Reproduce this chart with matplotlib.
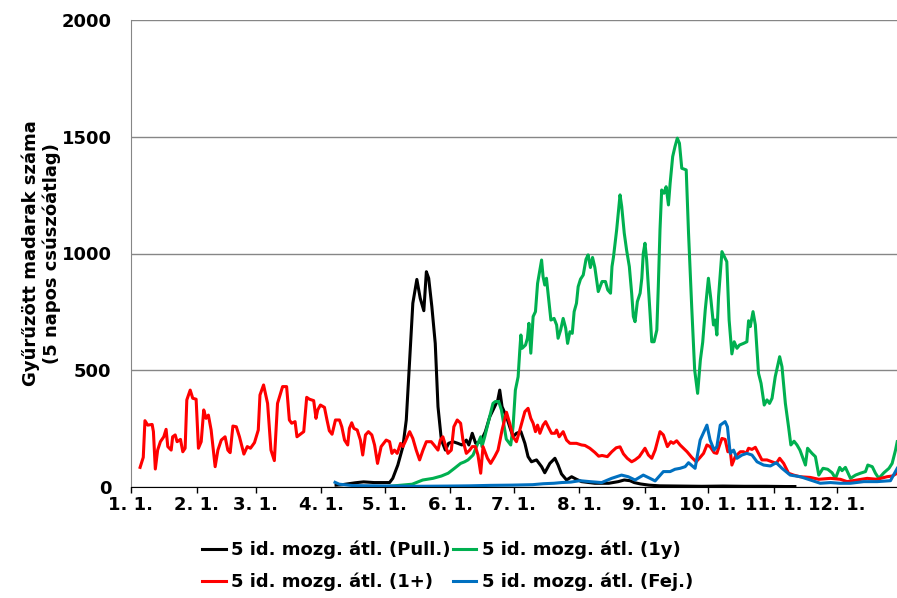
import matplotlib
matplotlib.use("Agg")
import matplotlib.pyplot as plt

# day of year (0 = Jan 1) and 5-day moving averages
red_days = [4.3, 5.8, 6.6, 7.9, 10, 10.6, 11.5, 12.6, 13.9, 15.5, 16.6, 17.4, 19, 19.7, 20.9, 21.8, 23.4,
            24.5, 25.6, 26.4, 28, 29.2, 30.8, 31.9, 33.2, 34.4, 35.5, 36.6, 37.9, 39.8, 41.1, 42.7, 44.5,
            45.8, 46.9, 48.2, 49.8, 51.3, 53.4, 55, 56.5, 58.4, 60.2, 61, 62.7, 64.6, 66.2, 67.8, 69.3,
            71.7, 73.6, 74.9, 76, 77.6, 78.5, 81.7, 83.1, 84.4, 86.4, 87.5, 88.3, 89.6, 91.5, 92.7, 93.8,
            95.1, 96.7, 98.6, 99.7, 101, 102.5, 103.3, 104.4, 105.4, 107, 108.5, 109.6, 110.9, 112.3,
            113.9, 115.2, 116.6, 118.3, 120.7, 122.3, 123.4, 124.6, 125.9, 127.5, 128.6, 129.7, 131.8,
            133.3, 134.9, 136.5, 138.1, 139.7, 142, 143.3, 145.2, 146.3, 147.5, 148.7, 149.9, 151.5,
            152.7, 154.3, 155.9, 157, 158.6, 160.2, 161.4, 162.9, 164.1, 165.4, 166.5, 168.6, 170.1, 172,
            173.6, 175.5, 177.6, 179.1, 180.7, 182.3, 183.9, 186.3, 187.8, 189.1, 190.2, 191.3, 192.3,
            193.4, 194.9, 196.1, 197.3, 198.9, 200.5, 201.3, 202.5, 204.4, 206, 207.6, 210.7, 213.1,
            214.7, 217, 219.4, 221.2, 222.8, 225.3, 227.4, 229.5, 231.3, 232.9, 234.7, 236.8, 238.4,
            240.4, 243.1, 244.7, 246.3, 247.9, 250.2, 251.8, 253.7, 255.3, 256.5, 258.1, 259.7, 261.3,
            263, 265.2, 267.3, 269.2, 270.8, 272.4, 273.9, 275.8, 277.1, 278.4, 279.5, 281, 282.3, 283.4,
            284.2, 285.8, 288.2, 289.7, 291, 292.1, 293.7, 295.3, 296.8, 298.4, 300.8, 303.2, 305.2,
            306.8, 308.7, 311, 313.4, 316.4, 321.3, 325.3, 330.8, 335.5, 338.7, 343.4, 348.2, 352.9,
            357.6, 360, 362.4]
red_vals = [84, 127, 284, 265, 268, 237, 77, 158, 194, 215, 247, 173, 158, 215, 223, 194, 204,
            151, 166, 373, 415, 380, 376, 166, 194, 330, 294, 308, 244, 87, 158, 201, 215,
            158, 147, 261, 258, 215, 141, 173, 166, 190, 244, 394, 437, 358, 158, 113, 358,
            430, 430, 287, 273, 280, 215, 237, 384, 376, 370, 294, 330, 351, 341, 287, 241,
            226, 287, 287, 258, 201, 180, 251, 275, 251, 244, 201, 137, 223, 237,
            223, 180, 101, 173, 201, 194, 144, 158, 144, 187, 173, 194, 237,
            208, 158, 116, 158, 194, 194, 180, 158, 201, 215, 180, 144, 158,
            258, 287, 273, 201, 144, 158, 173, 173, 137, 59, 173, 123, 101, 130,
            158, 244, 320, 273, 215, 194, 244, 323, 337, 294, 273, 237, 265,
            230, 265, 280, 258, 230, 230, 244, 215, 237, 201, 187, 187, 180,
            178, 166, 148, 132, 135, 130, 151, 168, 172, 142, 123, 108, 116,
            130, 166, 137, 123, 158, 237, 223, 173, 194, 187, 198, 180, 166,
            151, 127, 108, 127, 144, 180, 173, 147, 144, 180, 208, 204, 151, 158,
            94, 130, 151, 151, 144, 166, 161, 170, 144, 116, 116, 108, 101,
            123, 101, 59, 51, 44, 41, 33, 37, 33, 23, 30, 37, 33,
            44, 47, 59]

black_days = [97, 100, 103, 106, 110, 115, 122.3, 123.8, 126.2, 128.6, 130.2, 131.8, 133.3, 135.2,
              136.8, 138.5, 139.7, 140.8, 142.3, 143.9, 145.2, 146.8, 148.7, 150.2, 152.3, 154.6,
              156.5, 158.6, 159.8, 161.4, 163, 165.4, 167.6, 169.7, 172, 173.5, 174.4, 175.5, 177.6,
              179.1, 180.7, 182.3, 184.4, 186.3, 187.8, 189.4, 191.8, 194.2, 195.7, 198.1, 200.5,
              202, 203.6, 206, 208.4, 210.7, 213.1, 219.4, 226, 230.5, 233.3, 236, 238, 241, 245,
              250, 260, 270, 280, 290, 300, 310, 314]
black_vals = [8, 10, 14, 18, 22, 19, 19, 37, 94, 173, 287, 544, 787, 889,
              808, 755, 922, 894, 772, 615, 344, 201, 158, 187, 194, 187,
              180, 201, 180, 230, 187, 194, 237, 301, 344, 373, 415, 344, 301,
              258, 215, 230, 237, 187, 130, 108, 116, 87, 61, 101, 123,
              94, 56, 30, 44, 33, 23, 16, 16, 23, 30, 27, 19, 13, 8,
              5, 4, 3, 4, 3, 3, 2, 2]

green_days = [122, 128, 133, 138, 142.8, 146.8, 150, 153, 155.9, 157.8, 159.4, 161.8, 163.4, 165.4,
              166, 167.3, 168.9, 170.1, 171.2, 172.3, 173.9, 175.2, 176.5, 177.5, 179.6, 180.7,
              181.8, 183.1, 183.9, 184.4, 185, 186.6, 187.5, 188.2, 189.1, 190.2, 191.3, 192.3,
              193.4, 194.2, 194.9, 195.7, 196.5, 197.6, 198.6, 200.1, 201.3, 202, 203.2, 204.4,
              205.6, 206.5, 207.6, 208.7, 209.6, 210.7, 211.5, 212.6, 213.9, 215.2, 216.2, 217.3,
              218.3, 219.4, 221, 222.8, 224.4, 225.5, 226.8, 227.5, 228.2, 229.7, 231.3, 232.1,
              233.3, 234.4, 235.7, 236.8, 237.6, 238.4, 239.5, 240.8, 241.6, 242.3, 243.1, 243.9,
              244.7, 245.5, 246.3, 247.4, 248.7, 249.4, 250.2, 251, 252.1, 253.1, 254.2, 255,
              256.2, 257.3, 258.4, 259.4, 260.5, 262.6, 263.7, 265.2, 266.6, 268, 269.3, 270.4,
              271.6, 273.1, 274.3, 275.5, 276.3, 277.1, 277.9, 279.5, 280.7, 281.8, 282.9, 284.2,
              285.3, 286.6, 287.8, 289.7, 291.3, 292.1, 292.9, 294.2, 295.3, 296.8, 298, 299.5,
              300.8, 302, 303.2, 304.7, 306.8, 307.9, 309.5, 311, 312.1, 313.6, 315, 316.4, 319,
              320, 322.1, 323.7, 325.3, 327.3, 329.5, 331.6, 333.2, 335.2, 336.3, 337.9, 340.3,
              342.7, 345, 347.4, 348.5, 350.6, 352.1, 353.7, 356.1, 358.5, 360, 361.6, 362.4]
green_vals = [3, 8, 12, 30, 37, 47, 59, 80, 101, 108, 116, 137, 173, 215,
              173, 215, 273, 315, 358, 366, 366, 330, 258, 205, 180, 258,
              415, 472, 587, 651, 594, 608, 637, 701, 573, 730, 751, 872,
              929, 972, 901, 865, 894, 801, 715, 722, 694, 637, 672, 722,
              680, 615, 665, 658, 751, 787, 858, 890, 908, 975, 994, 940,
              983, 940, 837, 880, 880, 844, 830, 944, 985, 1101, 1251, 1201,
              1087, 1015, 944, 830, 730, 708, 794, 830, 894, 1001, 1044, 972,
              858, 744, 622, 622, 672, 858, 1101, 1272, 1258, 1286, 1208, 1301,
              1415, 1458, 1494, 1472, 1365, 1358, 1087, 772, 501, 401, 544, 620,
              758, 894, 801, 694, 715, 651, 815, 1008, 986, 965, 715, 570,
              622, 594, 608, 615, 622, 712, 687, 751, 694, 487, 444, 351,
              373, 358, 380, 472, 558, 515, 358, 258, 180, 196, 180, 158, 94,
              166, 144, 130, 51, 80, 76, 61, 37, 84, 70, 84, 37,
              51, 59, 66, 94, 87, 59, 37, 61, 80, 101, 158, 194]

blue_days = [96.5, 98.5, 105, 115, 125, 135, 150, 160, 170, 180, 190, 195, 200, 203.6, 208, 212.3,
             217, 222.6, 227.3, 232, 235.2, 238.4, 242.3, 245.5, 247.9, 251.8, 255, 257.3, 259.7,
             262.1, 263.7, 266.8, 269.2, 272.4, 273.9, 275.8, 277.1, 278.7, 281, 282.1, 283.4, 285,
             286.6, 289, 291.3, 293.7, 296.1, 299.2, 302.4, 305.2, 307.9, 311.8, 316.6, 321.3, 326,
             330.8, 335.5, 340.3, 346.6, 352.9, 359.2, 362.4]
blue_vals = [20, 12, 6, 5, 4, 3, 4, 5, 7, 8, 10, 14, 16, 19, 21, 27,
             23, 19, 37, 51, 44, 30, 51, 37, 26, 66, 66, 76, 80,
             87, 104, 80, 201, 265, 201, 158, 173, 265, 280, 258, 144, 158,
             123, 137, 144, 137, 108, 94, 90, 104, 80, 51, 44, 30, 16,
             19, 16, 16, 23, 23, 27, 80]

month_starts = [0, 31, 59, 90, 120, 151, 181, 212, 243, 273, 304, 334]
month_labels = ["1. 1.", "2. 1.", "3. 1.", "4. 1.", "5. 1.", "6. 1.", "7. 1.", "8. 1.", "9. 1.",
                "10. 1.", "11. 1.", "12. 1."]
y_ticks = [0, 500, 1000, 1500, 2000]

plt.rcParams['font.family'] = ['DejaVu Sans']
plt.rcParams['font.weight'] = 'bold'
plt.rcParams['font.size'] = 13

fig = plt.figure(figsize=(8.97, 5.98), dpi=100)
ax = fig.add_axes([131 / 897, 111 / 598, 1 - 131 / 897, 467 / 598])

lw = 2.2
l_pull, = ax.plot(black_days, black_vals, color='black', lw=lw, label='5 id. mozg. átl. (Pull.)')
l_1y, = ax.plot(green_days, green_vals, color='#00B050', lw=lw, label='5 id. mozg. átl. (1y)')
l_1p, = ax.plot(red_days, red_vals, color='#FF0000', lw=lw, label='5 id. mozg. átl. (1+)')
l_fej, = ax.plot(blue_days, blue_vals, color='#0070C0', lw=lw, label='5 id. mozg. átl. (Fej.)')

ax.set_xlim(0, 362.3)
ax.set_ylim(0, 2000)
ax.set_xticks(month_starts)
ax.set_xticklabels(month_labels, fontweight='bold')
ax.set_yticks(y_ticks)
ax.set_yticklabels([str(v) for v in y_ticks], fontweight='bold')
ax.tick_params(axis='x', direction='out', length=4.5, width=1, pad=2)
ax.tick_params(axis='y', length=0, pad=14)

ax.grid(axis='y', color='#868686', lw=1)
ax.set_axisbelow(True)
for s in ['top', 'right']:
    ax.spines[s].set_visible(False)
ax.spines['left'].set_color('#868686')
ax.spines['bottom'].set_color('black')

ax.set_ylabel('Gyűrűzött madarak száma\n(5 napos csúszóátlag)', fontweight='bold', va='center')
ax.yaxis.set_label_coords(-0.117, 0.5)

fig.legend(handles=[l_pull, l_1p, l_1y, l_fej], ncol=2, loc='center',
           bbox_to_anchor=(0.499, 0.0535), frameon=False, handlelength=1.3,
           handletextpad=0.3, columnspacing=0.1, labelspacing=0.75,
           prop={'weight': 'bold', 'size': 13})

fig.savefig('out.png', dpi=100)
